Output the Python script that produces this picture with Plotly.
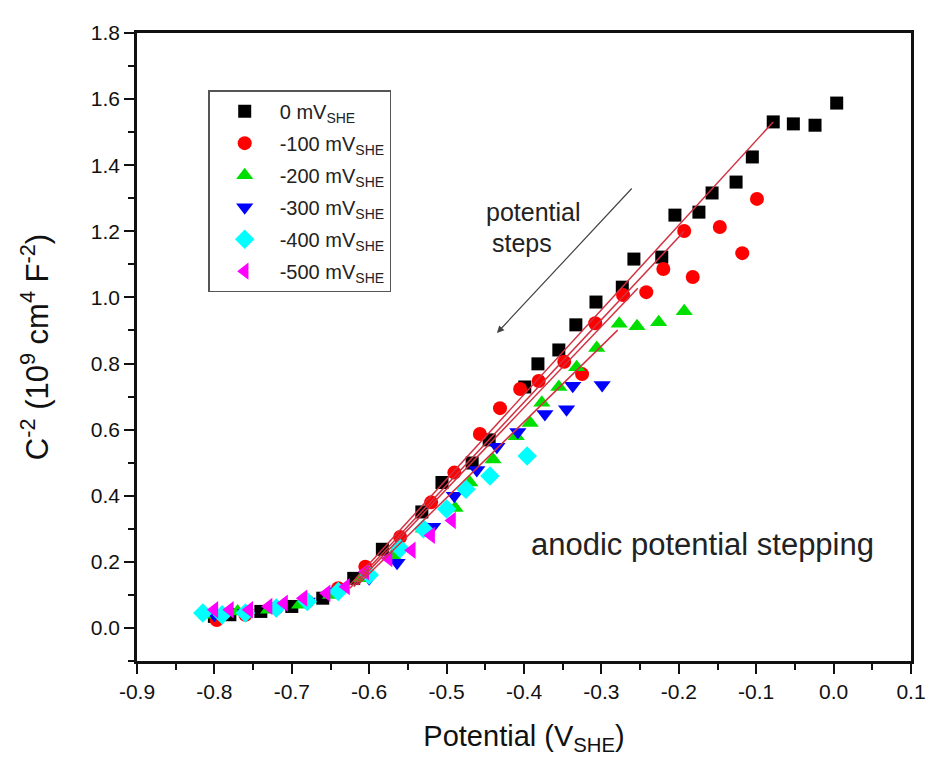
import plotly.graph_objects as go

# ---------------- data ----------------
names = ["0 mV<sub>SHE</sub>", "-100 mV<sub>SHE</sub>", "-200 mV<sub>SHE</sub>",
         "-300 mV<sub>SHE</sub>", "-400 mV<sub>SHE</sub>", "-500 mV<sub>SHE</sub>"]

x_0 = [0.004, -0.024, -0.052, -0.078, -0.105, -0.126, -0.157, -0.174, -0.205, -0.222,
       -0.258, -0.273, -0.307, -0.333, -0.355, -0.382, -0.399, -0.445, -0.467, -0.506,
       -0.532, -0.583, -0.62, -0.66, -0.70, -0.74, -0.78, -0.80]
y_0 = [1.588, 1.521, 1.525, 1.531, 1.425, 1.349, 1.316, 1.258, 1.249, 1.122,
       1.116, 1.031, 0.986, 0.917, 0.841, 0.799, 0.729, 0.569, 0.499, 0.440,
       0.351, 0.238, 0.15, 0.09, 0.065, 0.05, 0.04, 0.035]

x_100 = [-0.099, -0.118, -0.147, -0.182, -0.193, -0.220, -0.242, -0.272, -0.308, -0.325,
         -0.348, -0.381, -0.405, -0.431, -0.457, -0.49, -0.52, -0.560, -0.605, -0.64,
         -0.68, -0.72, -0.76, -0.797]
y_100 = [1.298, 1.134, 1.213, 1.062, 1.201, 1.086, 1.016, 1.007, 0.922, 0.768,
         0.805, 0.747, 0.723, 0.665, 0.587, 0.47, 0.38, 0.275, 0.185, 0.12,
         0.08, 0.06, 0.04, 0.024]

x_200 = [-0.193, -0.226, -0.254, -0.277, -0.306, -0.332, -0.355, -0.377, -0.392, -0.41,
         -0.44, -0.47, -0.489, -0.53, -0.57, -0.61, -0.65, -0.69, -0.73, -0.77, -0.81]
y_200 = [0.958, 0.925, 0.913, 0.920, 0.847, 0.789, 0.729, 0.681, 0.620, 0.58,
         0.51, 0.44, 0.363, 0.30, 0.22, 0.15, 0.10, 0.07, 0.055, 0.05, 0.04]

x_300 = [-0.299, -0.337, -0.345, -0.373, -0.408, -0.435, -0.461, -0.49, -0.518, -0.564,
         -0.60, -0.64, -0.68, -0.72, -0.76, -0.80]
y_300 = [0.735, 0.733, 0.662, 0.647, 0.593, 0.548, 0.478, 0.40, 0.306, 0.197,
         0.15, 0.11, 0.08, 0.055, 0.045, 0.04]

x_400 = [-0.396, -0.444, -0.475, -0.50, -0.53, -0.56, -0.60, -0.64, -0.68, -0.72,
         -0.76, -0.79, -0.815]
y_400 = [0.520, 0.460, 0.42, 0.36, 0.30, 0.24, 0.16, 0.11, 0.08, 0.06,
         0.045, 0.04, 0.045]

x_500 = [-0.493, -0.52, -0.545, -0.575, -0.605, -0.63, -0.655, -0.685, -0.71, -0.73,
         -0.755, -0.78, -0.80]
y_500 = [0.325, 0.28, 0.235, 0.21, 0.17, 0.125, 0.105, 0.09, 0.075, 0.065,
         0.055, 0.055, 0.055]

# linear-fit segments (start x, end x, start y, end y)
fit_x0 = [-0.625, -0.625, -0.62, -0.615]
fit_x1 = [-0.078, -0.193, -0.253, -0.279]
fit_y0 = [0.13, 0.12, 0.125, 0.13]
fit_y1 = [1.531, 1.200, 1.028, 0.901]

x_ticks = [-0.9, -0.8, -0.7, -0.6, -0.5, -0.4, -0.3, -0.2, -0.1, 0.0, 0.1]
x_tick_text = ["-0.9", "-0.8", "-0.7", "-0.6", "-0.5", "-0.4", "-0.3", "-0.2", "-0.1", "0.0", "0.1"]
y_ticks = [0.0, 0.2, 0.4, 0.6, 0.8, 1.0, 1.2, 1.4, 1.6, 1.8]
y_tick_text = ["0.0", "0.2", "0.4", "0.6", "0.8", "1.0", "1.2", "1.4", "1.6", "1.8"]

# ---------------- figure ----------------
series = [(x_0, y_0, "square", "#000000"),
          (x_100, y_100, "circle", "#ff0000"),
          (x_200, y_200, "triangle-up", "#00e000"),
          (x_300, y_300, "triangle-down", "#0000ff"),
          (x_400, y_400, "diamond", "#00ffff"),
          (x_500, y_500, "triangle-left", "#ff00ff")]
sizes = [13, 14, 15, 15, 15, 15]

fig = go.Figure()
for k, ((xs, ys, sym, col), nm, sz) in enumerate(zip(series, names, sizes)):
    fig.add_trace(go.Scatter(x=xs, y=ys, mode="markers", name=nm, legendgroup=f"g{k}",
                             marker=dict(symbol=sym, color=col, size=sz, line=dict(width=0))))

for i in range(len(fit_x0)):
    fig.add_trace(go.Scatter(x=[fit_x0[i], fit_x1[i]], y=[fit_y0[i], fit_y1[i]],
                             mode="lines", showlegend=False,
                             line=dict(color="#d23040", width=1.5)))

axis_font = "Liberation Sans, Arial, sans-serif"

fig.update_layout(
    width=942, height=780,
    margin=dict(l=137, r=31, t=33, b=119),
    paper_bgcolor="white", plot_bgcolor="white",
    showlegend=True,
    legend=dict(x=0.092, y=0.909, xanchor="left", yanchor="top",
                bordercolor="#555555", borderwidth=1.5, bgcolor="white",
                font=dict(family=axis_font, size=20, color="#222222"),
                tracegroupgap=3, itemsizing="trace", itemwidth=60),
    xaxis=dict(range=[-0.9, 0.1], tickvals=x_ticks, ticktext=x_tick_text,
               showgrid=False, zeroline=False, showline=True, linecolor="#111111",
               linewidth=2.5, mirror=True, ticks="outside", ticklen=10, tickwidth=2,
               tickcolor="#111111",
               minor=dict(ticks="outside", ticklen=6, tickwidth=2, dtick=0.05,
                          tickcolor="#111111", showgrid=False),
               tickfont=dict(family=axis_font, size=21, color="#111111"),
               title=dict(text="Potential (V<sub>SHE</sub>)", standoff=24,
                          font=dict(family=axis_font, size=29, color="#111111"))),
    yaxis=dict(range=[-0.1, 1.8], tickvals=y_ticks, ticktext=y_tick_text,
               showgrid=False, zeroline=False, showline=True, linecolor="#111111",
               linewidth=2.5, mirror=True, ticks="outside", ticklen=10, tickwidth=2,
               tickcolor="#111111",
               minor=dict(ticks="outside", ticklen=6, tickwidth=2, dtick=0.1,
                          tickcolor="#111111", showgrid=False),
               tickfont=dict(family=axis_font, size=21, color="#111111"),
               title=dict(text="C<sup>-2</sup> (10<sup>9</sup> cm<sup>4</sup> F<sup>-2</sup>)",
                          standoff=33,
                          font=dict(family=axis_font, size=31, color="#111111"))),
)

fig.add_annotation(x=-0.388, y=1.258, xref="x", yref="y", text="potential",
                   showarrow=False, xanchor="center", yanchor="middle",
                   font=dict(family=axis_font, size=25, color="#222222"))
fig.add_annotation(x=-0.402, y=1.165, xref="x", yref="y", text="steps",
                   showarrow=False, xanchor="center", yanchor="middle",
                   font=dict(family=axis_font, size=25, color="#222222"))
fig.add_annotation(x=-0.435, y=0.892, ax=-0.259, ay=1.334, xref="x", yref="y",
                   axref="x", ayref="y", text="", showarrow=True,
                   arrowhead=2, arrowsize=1.2, arrowwidth=1.2, arrowcolor="#444444")
fig.add_annotation(x=-0.169, y=0.251, xref="x", yref="y", text="anodic potential stepping",
                   showarrow=False, xanchor="center", yanchor="middle",
                   font=dict(family=axis_font, size=31, color="#222222"))

fig.write_html("out.html")
